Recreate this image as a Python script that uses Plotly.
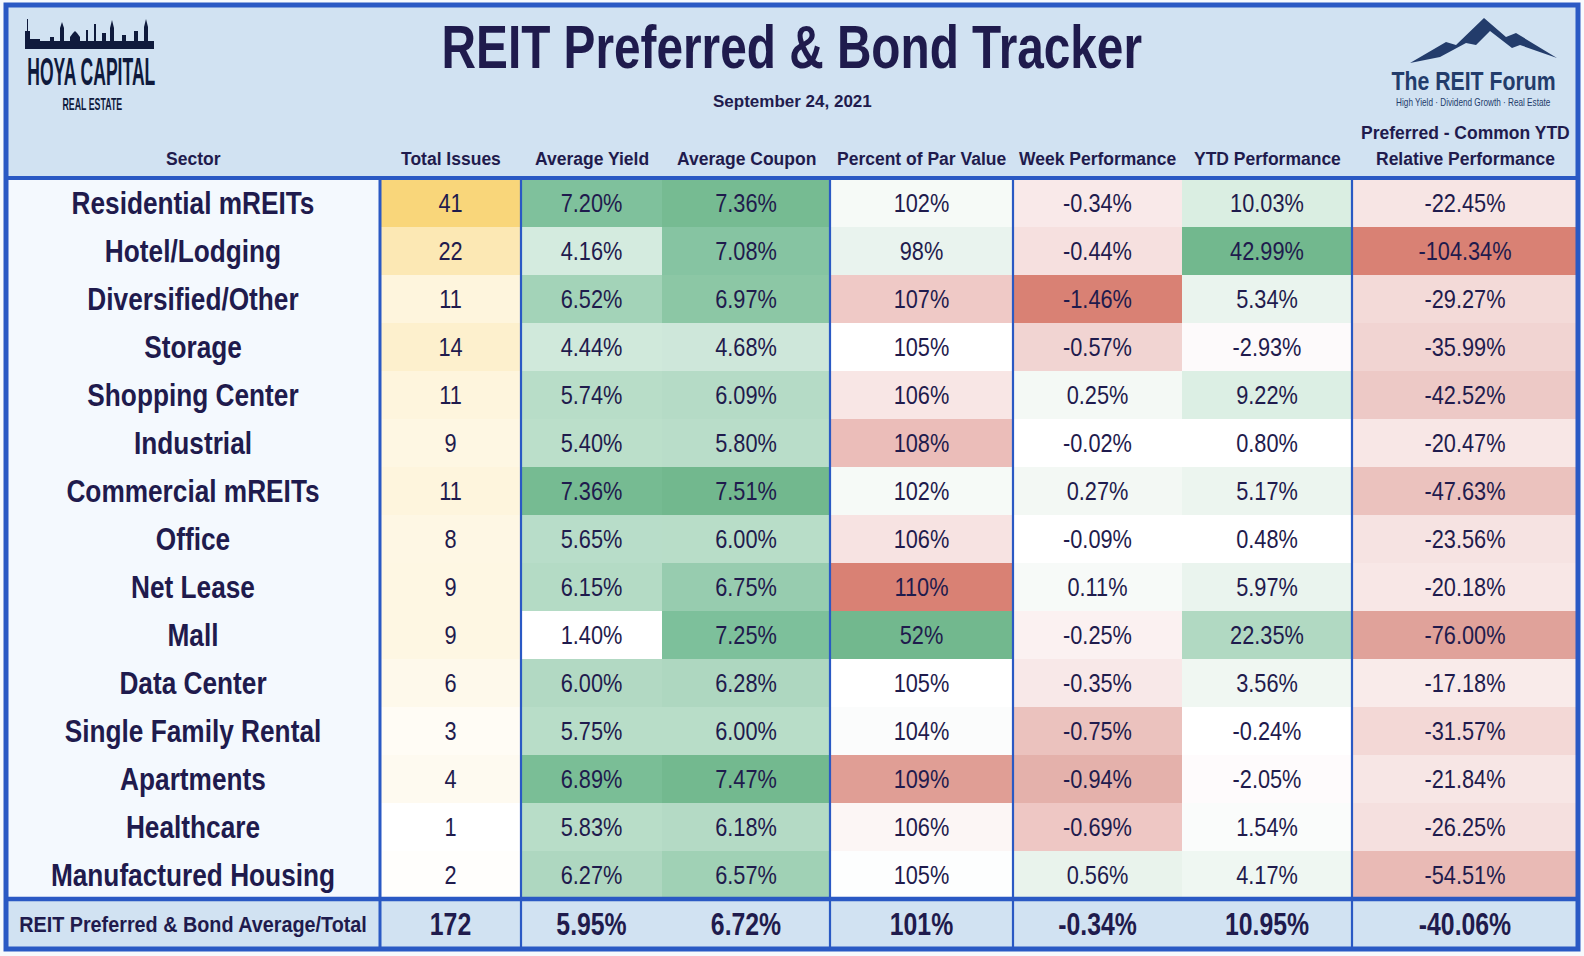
import plotly.graph_objects as go

# ---------------- data ----------------
sectors = ["Residential mREITs", "Hotel/Lodging", "Diversified/Other", "Storage",
           "Shopping Center", "Industrial", "Commercial mREITs", "Office", "Net Lease",
           "Mall", "Data Center", "Single Family Rental", "Apartments", "Healthcare",
           "Manufactured Housing"]
total_issues = [41, 22, 11, 14, 11, 9, 11, 8, 9, 9, 6, 3, 4, 1, 2]
avg_yield = [7.20, 4.16, 6.52, 4.44, 5.74, 5.40, 7.36, 5.65, 6.15, 1.40, 6.00, 5.75, 6.89, 5.83, 6.27]
avg_coupon = [7.36, 7.08, 6.97, 4.68, 6.09, 5.80, 7.51, 6.00, 6.75, 7.25, 6.28, 6.00, 7.47, 6.18, 6.57]
pct_par = [102, 98, 107, 105, 106, 108, 102, 106, 110, 52, 105, 104, 109, 106, 105]
week_perf = [-0.34, -0.44, -1.46, -0.57, 0.25, -0.02, 0.27, -0.09, 0.11, -0.25, -0.35, -0.75, -0.94, -0.69, 0.56]
ytd_perf = [10.03, 42.99, 5.34, -2.93, 9.22, 0.80, 5.17, 0.48, 5.97, 22.35, 3.56, -0.24, -2.05, 1.54, 4.17]
rel_perf = [-22.45, -104.34, -29.27, -35.99, -42.52, -20.47, -47.63, -23.56, -20.18, -76.00,
            -17.18, -31.57, -21.84, -26.25, -54.51]

footer_label = "REIT Preferred & Bond Average/Total"
footer_total_issues = 172
footer_yield = 5.95
footer_coupon = 6.72
footer_par = 101
footer_week = -0.34
footer_ytd = 10.95
footer_rel = -40.06

column_headers = ["Sector", "Total Issues", "Average Yield", "Average Coupon",
                  "Percent of Par Value", "Week Performance", "YTD Performance",
                  "Preferred - Common YTD<br>Relative Performance"]
title_text = "REIT Preferred & Bond Tracker"
date_text = "September 24, 2021"

# ---------------- styles (conditional-format colours) ----------------
sector_fill = "#F4F9FE"
total_colors = ["#F9D67A", "#FCE8B4", "#FEF5DD", "#FDF0CD", "#FEF5DD", "#FEF7E3", "#FEF5DD", "#FEF7E4",
                "#FEF7E3", "#FEF7E3", "#FEF9EB", "#FFFCF5", "#FEFAF0", "#FFFFFF", "#FFFEFC"]
yield_colors = ["#7FC19C", "#D4EBDF", "#A3D3B8", "#D0E9DB", "#B8DDC8", "#BBDFCA", "#76BB92", "#B8DDC9",
                "#B4DBC5", "#FFFFFF", "#B2D9C3", "#B8DDC8", "#7ABE96", "#B8DDC8", "#AED7C0"]
coupon_colors = ["#76BB92", "#86C4A2", "#8CC7A5", "#CEE7DA", "#B5DBC6", "#B9DDC9", "#72B88E", "#B8DDC8",
                 "#97CCAF", "#7DC09B", "#AED7C0", "#B8DDC8", "#73B98F", "#B4DAC5", "#A0D1B5"]
par_colors = ["#F6FAF7", "#E9F3EE", "#EFC9C6", "#FFFFFF", "#F8E6E5", "#EBBDB9", "#F6FAF7", "#F7E3E2",
              "#D98174", "#72B88E", "#FFFFFF", "#FBFCFC", "#E09E95", "#FCF6F5", "#FDFEFE"]
week_colors = ["#F9E9E9", "#F6E0DF", "#D98174", "#F1D4D2", "#F4F9F5", "#FFFFFF", "#F3F8F4", "#FFFFFF",
               "#F7FAF8", "#FBF1F1", "#F8E8E8", "#EBC2BE", "#E4B1AB", "#EEC7C4", "#E9F3EC"]
ytd_colors = ["#DAEEE2", "#72B88E", "#EAF4EE", "#FDFAFB", "#DCEFE4", "#FFFFFF", "#ECF5EF", "#FFFFFF",
              "#EAF4EE", "#B1D9C2", "#F0F7F2", "#FFFFFF", "#FEFBFC", "#FAFCFB", "#EFF7F2"]
rel_colors = ["#F7E5E4", "#D98174", "#F3DAD8", "#F1D4D2", "#EDC9C6", "#F8E7E6", "#EBC2BE", "#F6E3E2",
              "#F8E7E6", "#E0A29A", "#F9EBEA", "#F3D8D6", "#F7E6E5", "#F5E0DF", "#E9BAB5"]
footer_fill = "#D1E2F2"
header_fill = "#D1E2F2"
page_bg = "#F7FAFD"
border_color = "#2A59C4"
text_color = "#1F1B4D"
logo_color = "#0F1A3C"
forum_color = "#233C6B"

# Liberation Sans, horizontally condensed by CSS (the leading tag names the scale)
SCALES = {"sx77": 0.77, "sx82": 0.82, "sx87": 0.87, "sx80": 0.80, "sx90": 0.90,
          "sx45": 0.45, "sx55": 0.55, "sx85": 0.85}

def narrow(tag):
    return f"{tag}, Liberation Sans, Arial, sans-serif"

REG = "Liberation Sans, Arial, sans-serif"

W, H = 1584, 956
col_edges = [6, 380, 521, 662, 830, 1013, 1182, 1352, 1578]
body_top, row_h, footer_h = 179, 48, 50
sep_cols = [1, 2, 4, 5, 7]
text_dy = 3

# ---------------- build cell grid ----------------
n_rows = len(sectors)
row_edges = [body_top + i * row_h for i in range(n_rows + 1)] + [body_top + n_rows * row_h + footer_h]
row_centers = [(row_edges[i] + row_edges[i + 1]) / 2 + text_dy for i in range(n_rows + 1)]
col_centers = [(col_edges[i] + col_edges[i + 1]) / 2 for i in range(len(col_edges) - 1)]
column_colors = [[sector_fill] * n_rows, total_colors, yield_colors, coupon_colors,
                 par_colors, week_colors, ytd_colors, rel_colors]

palette, z = [], []
for r in range(n_rows + 1):
    zr = []
    for c in range(len(column_colors)):
        colr = footer_fill if r == n_rows else column_colors[c][r]
        if colr not in palette:
            palette.append(colr)
        zr.append(palette.index(colr))
    z.append(zr)
n_pal = len(palette)
colorscale = [[i / (n_pal - 1), palette[i]] for i in range(n_pal)]

fig = go.Figure()
fig.add_trace(go.Heatmap(x=col_edges, y=row_edges, z=z, colorscale=colorscale,
                         zmin=0, zmax=n_pal - 1, showscale=False, hoverinfo="skip"))

def pct2(v):
    return f"{v:.2f}%"

def pct0(v):
    return f"{v:.0f}%"

body_cols = [
    [str(v) for v in total_issues],
    [pct2(v) for v in avg_yield],
    [pct2(v) for v in avg_coupon],
    [pct0(v) for v in pct_par],
    [pct2(v) for v in week_perf],
    [pct2(v) for v in ytd_perf],
    [pct2(v) for v in rel_perf],
]
footer_vals = [str(footer_total_issues), pct2(footer_yield), pct2(footer_coupon), pct0(footer_par),
               pct2(footer_week), pct2(footer_ytd), pct2(footer_rel)]

fig.add_trace(go.Scatter(x=[col_centers[0]] * n_rows, y=row_centers[:n_rows], mode="text",
                         text=sectors, textposition="middle center", hoverinfo="skip",
                         textfont=dict(family=narrow("sx82"), size=32, color=text_color, weight="bold")))
for ci, vals in enumerate(body_cols, start=1):
    fig.add_trace(go.Scatter(x=[col_centers[ci]] * n_rows, y=row_centers[:n_rows], mode="text",
                             text=vals, textposition="middle center", hoverinfo="skip",
                             textfont=dict(family=narrow("sx87"), size=25, color=text_color)))
fig.add_trace(go.Scatter(x=[col_centers[0]], y=[row_centers[n_rows]], mode="text",
                         text=[footer_label], textposition="middle center", hoverinfo="skip",
                         textfont=dict(family=narrow("sx90"), size=22, color=text_color, weight="bold")))
fig.add_trace(go.Scatter(x=col_centers[1:], y=[row_centers[n_rows]] * 7, mode="text",
                         text=footer_vals, textposition="middle center", hoverinfo="skip",
                         textfont=dict(family=narrow("sx80"), size=31, color=text_color, weight="bold")))

shapes = []
shapes.append(dict(type="rect", xref="x", yref="y", x0=col_edges[0], x1=col_edges[-1], y0=5, y1=body_top,
                   fillcolor=header_fill, line=dict(width=0), layer="below"))
for ci in sep_cols:
    shapes.append(dict(type="line", xref="x", yref="y", x0=col_edges[ci], x1=col_edges[ci],
                       y0=body_top - 1, y1=row_edges[-1],
                       line=dict(color=border_color, width=3 if ci == 1 else 2.2)))
shapes.append(dict(type="line", xref="x", yref="y", x0=col_edges[0], x1=col_edges[-1],
                   y0=body_top - 1, y1=body_top - 1, line=dict(color=border_color, width=4)))
shapes.append(dict(type="line", xref="x", yref="y", x0=col_edges[0], x1=col_edges[-1],
                   y0=row_edges[n_rows], y1=row_edges[n_rows], line=dict(color=border_color, width=4.5)))
shapes.append(dict(type="rect", xref="x", yref="y", x0=col_edges[0], x1=col_edges[-1], y0=5, y1=row_edges[-1],
                   line=dict(color=border_color, width=5)))
skyline = ("M25,49 L25,31 L27,31 L27,19 L28,19 L28,31 L30,31 L30,39 L40,39 L40,41 L50,41 L50,37 L54,37 "
           "L54,41 L60,41 L60,28 L62,22 L64,28 L64,41 L70,41 L70,37 L73,33 L75,31 L77,33 L80,37 L80,41 "
           "L86,41 L86,30 L88,30 L88,41 L94,41 L94,24 L96,24 L96,41 L102,41 L102,33 L106,33 L106,41 "
           "L110,41 L110,28 L112,20 L114,28 L114,41 L122,41 L122,35 L126,35 L126,41 L134,41 L134,31 "
           "L138,31 L138,41 L144,41 L144,27 L146,19 L148,27 L148,41 L154,41 L154,49 Z")
shapes.append(dict(type="path", xref="x", yref="y", path=skyline, fillcolor=logo_color, line=dict(width=0)))
mountain = ("M1410,63 L1446,42 L1456,45 L1484,18 L1506,37 L1516,33 L1557,58 L1520,45 L1512,48 "
            "L1490,31 L1476,45 L1466,43 L1440,57 Z")
shapes.append(dict(type="path", xref="x", yref="y", path=mountain, fillcolor=forum_color, line=dict(width=0)))

annotations = []
annotations.append(dict(x=W / 2, y=46, xref="x", yref="y", text=title_text, showarrow=False,
                        font=dict(family=narrow("sx77"), size=62, color=text_color, weight="bold"),
                        xanchor="center", yanchor="middle"))
annotations.append(dict(x=W / 2, y=101, xref="x", yref="y", text=date_text, showarrow=False,
                        font=dict(family=REG, size=17, color=text_color, weight="bold"),
                        xanchor="center", yanchor="middle"))
for ci, lab in enumerate(column_headers):
    lines = lab.split("<br>")
    for li, line in enumerate(lines):
        yy = 159 - (len(lines) - 1 - li) * 26.5
        annotations.append(dict(x=col_centers[ci], y=yy, xref="x", yref="y", text=line, showarrow=False,
                                font=dict(family=REG, size=17.5, color=text_color, weight="bold"),
                                xanchor="center", yanchor="middle"))
annotations.append(dict(x=91, y=71, xref="x", yref="y", text="HOYA CAPITAL", showarrow=False,
                        font=dict(family=narrow("sx45"), size=39, color=logo_color, weight="bold"),
                        xanchor="center", yanchor="middle"))
annotations.append(dict(x=92, y=104, xref="x", yref="y", text="REAL ESTATE", showarrow=False,
                        font=dict(family=narrow("sx55"), size=16, color=logo_color, weight="bold"),
                        xanchor="center", yanchor="middle"))
annotations.append(dict(x=1473, y=81, xref="x", yref="y", text="The REIT Forum", showarrow=False,
                        font=dict(family=narrow("sx85"), size=25, color=forum_color, weight="bold"),
                        xanchor="center", yanchor="middle"))
annotations.append(dict(x=1473, y=102, xref="x", yref="y", text="High Yield · Dividend Growth · Real Estate",
                        showarrow=False, font=dict(family=narrow("sx82"), size=10, color=forum_color),
                        xanchor="center", yanchor="middle"))

fig.update_layout(
    width=W, height=H, margin=dict(l=0, r=0, t=0, b=0),
    paper_bgcolor=page_bg, plot_bgcolor=page_bg, showlegend=False,
    xaxis=dict(range=[0, W], visible=False, fixedrange=True, domain=[0, 1]),
    yaxis=dict(range=[H, 0], visible=False, fixedrange=True, domain=[0, 1]),
    shapes=shapes, annotations=annotations,
)

css = "".join(
    f'text[style*="{tag}"]{{transform-box:fill-box;transform-origin:center;transform:scaleX({s});}}'
    for tag, s in SCALES.items()
)
post = (
    "var st=document.createElement('style');"
    f"st.textContent='{css}';"
    "document.head.appendChild(st);"
    "document.body.style.margin='0';"
    "document.body.style.overflow='hidden';"
    f"document.body.style.background='{page_bg}';"
)
fig.write_html("out.html", post_script=post, config={"displayModeBar": False})
